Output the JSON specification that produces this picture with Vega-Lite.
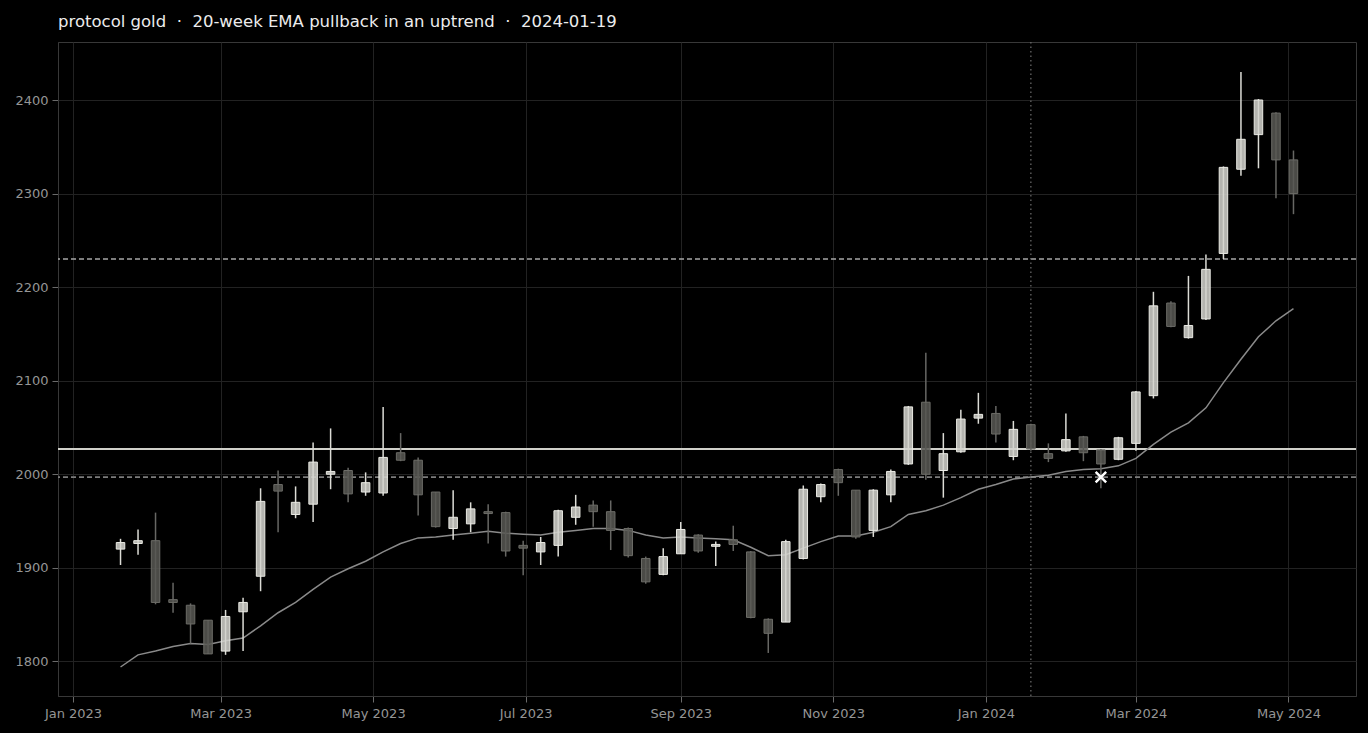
{
  "$schema": "https://vega.github.io/schema/vega-lite/v6.json",
  "title": "protocol gold\u00a0\u00a0·\u00a0\u00a020-week EMA pullback in an uptrend\u00a0\u00a0·\u00a0\u00a02024-01-19",
  "width": 1298,
  "height": 654,
  "autosize": {"type": "none"},
  "padding": {"left": 58, "top": 42, "right": 12, "bottom": 37},
  "datasets": {
    "weeks": [
      {"date": "2023-01-20", "open": 1920, "high": 1931, "low": 1903, "close": 1927, "ema": 1794},
      {"date": "2023-01-27", "open": 1926, "high": 1941, "low": 1914, "close": 1929, "ema": 1807},
      {"date": "2023-02-03", "open": 1929, "high": 1959, "low": 1861, "close": 1863, "ema": 1811},
      {"date": "2023-02-10", "open": 1866, "high": 1884, "low": 1852, "close": 1863, "ema": 1816},
      {"date": "2023-02-17", "open": 1860, "high": 1862, "low": 1819, "close": 1840, "ema": 1819},
      {"date": "2023-02-24", "open": 1844, "high": 1844, "low": 1808, "close": 1808, "ema": 1818},
      {"date": "2023-03-03", "open": 1811, "high": 1855, "low": 1807, "close": 1848, "ema": 1822},
      {"date": "2023-03-10", "open": 1853, "high": 1868, "low": 1811, "close": 1863, "ema": 1825},
      {"date": "2023-03-17", "open": 1891, "high": 1985, "low": 1875, "close": 1971, "ema": 1838},
      {"date": "2023-03-24", "open": 1989, "high": 2004, "low": 1938, "close": 1982, "ema": 1852},
      {"date": "2023-03-31", "open": 1957, "high": 1987, "low": 1953, "close": 1970, "ema": 1863},
      {"date": "2023-04-07", "open": 1968, "high": 2034, "low": 1949, "close": 2013, "ema": 1877},
      {"date": "2023-04-14", "open": 2000, "high": 2049, "low": 1984, "close": 2003, "ema": 1890},
      {"date": "2023-04-21", "open": 2004, "high": 2007, "low": 1970, "close": 1979, "ema": 1899},
      {"date": "2023-04-28", "open": 1981, "high": 2002, "low": 1977, "close": 1991, "ema": 1907},
      {"date": "2023-05-05", "open": 1980, "high": 2072, "low": 1977, "close": 2018, "ema": 1917},
      {"date": "2023-05-12", "open": 2023, "high": 2044, "low": 2014, "close": 2015, "ema": 1926},
      {"date": "2023-05-19", "open": 2015, "high": 2018, "low": 1956, "close": 1978, "ema": 1932},
      {"date": "2023-05-26", "open": 1981, "high": 1981, "low": 1943, "close": 1944, "ema": 1933},
      {"date": "2023-06-02", "open": 1942, "high": 1983, "low": 1930, "close": 1954, "ema": 1935},
      {"date": "2023-06-09", "open": 1947, "high": 1970, "low": 1938, "close": 1963, "ema": 1937},
      {"date": "2023-06-16", "open": 1960, "high": 1968, "low": 1926, "close": 1958, "ema": 1939},
      {"date": "2023-06-23", "open": 1959, "high": 1960, "low": 1912, "close": 1918, "ema": 1937},
      {"date": "2023-06-30", "open": 1924, "high": 1929, "low": 1892, "close": 1921, "ema": 1936},
      {"date": "2023-07-07", "open": 1917, "high": 1933, "low": 1903, "close": 1927, "ema": 1935},
      {"date": "2023-07-14", "open": 1924, "high": 1962, "low": 1912, "close": 1961, "ema": 1938},
      {"date": "2023-07-21", "open": 1954, "high": 1978, "low": 1946, "close": 1965, "ema": 1940},
      {"date": "2023-07-28", "open": 1967, "high": 1972, "low": 1944, "close": 1960, "ema": 1942},
      {"date": "2023-08-04", "open": 1960, "high": 1972, "low": 1919, "close": 1940, "ema": 1942},
      {"date": "2023-08-11", "open": 1942, "high": 1943, "low": 1911, "close": 1913, "ema": 1940},
      {"date": "2023-08-18", "open": 1910, "high": 1912, "low": 1883, "close": 1885, "ema": 1935},
      {"date": "2023-08-25", "open": 1893, "high": 1921, "low": 1892, "close": 1912, "ema": 1932},
      {"date": "2023-09-01", "open": 1915, "high": 1949, "low": 1915, "close": 1941, "ema": 1933},
      {"date": "2023-09-08", "open": 1935, "high": 1936, "low": 1916, "close": 1918, "ema": 1932},
      {"date": "2023-09-15", "open": 1923, "high": 1928, "low": 1902, "close": 1925, "ema": 1931},
      {"date": "2023-09-22", "open": 1930, "high": 1945, "low": 1918, "close": 1925, "ema": 1930},
      {"date": "2023-09-29", "open": 1917, "high": 1918, "low": 1846, "close": 1847, "ema": 1922},
      {"date": "2023-10-06", "open": 1845, "high": 1846, "low": 1809, "close": 1830, "ema": 1913},
      {"date": "2023-10-13", "open": 1842, "high": 1930, "low": 1842, "close": 1928, "ema": 1914},
      {"date": "2023-10-20", "open": 1910, "high": 1988, "low": 1909, "close": 1984, "ema": 1921},
      {"date": "2023-10-27", "open": 1976, "high": 1990, "low": 1970, "close": 1989, "ema": 1928},
      {"date": "2023-11-03", "open": 2005, "high": 2006, "low": 1977, "close": 1991, "ema": 1934},
      {"date": "2023-11-10", "open": 1983, "high": 1983, "low": 1931, "close": 1933, "ema": 1934},
      {"date": "2023-11-17", "open": 1940, "high": 1984, "low": 1933, "close": 1983, "ema": 1938},
      {"date": "2023-11-24", "open": 1978, "high": 2005, "low": 1970, "close": 2003, "ema": 1944},
      {"date": "2023-12-01", "open": 2011, "high": 2073, "low": 2010, "close": 2072, "ema": 1957},
      {"date": "2023-12-08", "open": 2077, "high": 2130, "low": 1994, "close": 2000, "ema": 1961},
      {"date": "2023-12-15", "open": 2004, "high": 2044, "low": 1975, "close": 2022, "ema": 1967},
      {"date": "2023-12-22", "open": 2024, "high": 2069, "low": 2023, "close": 2059, "ema": 1975},
      {"date": "2023-12-29", "open": 2060, "high": 2087, "low": 2054, "close": 2064, "ema": 1984},
      {"date": "2024-01-05", "open": 2065, "high": 2073, "low": 2034, "close": 2043, "ema": 1989},
      {"date": "2024-01-12", "open": 2019, "high": 2057, "low": 2015, "close": 2048, "ema": 1995},
      {"date": "2024-01-19", "open": 2053, "high": 2054, "low": 2025, "close": 2027, "ema": 1997},
      {"date": "2024-01-26", "open": 2022, "high": 2033, "low": 2013, "close": 2017, "ema": 1999},
      {"date": "2024-02-02", "open": 2025, "high": 2065, "low": 2024, "close": 2037, "ema": 2003},
      {"date": "2024-02-09", "open": 2040, "high": 2041, "low": 2014, "close": 2023, "ema": 2005},
      {"date": "2024-02-16", "open": 2026, "high": 2027, "low": 1985, "close": 2011, "ema": 2006},
      {"date": "2024-02-23", "open": 2016, "high": 2040, "low": 2015, "close": 2039, "ema": 2009},
      {"date": "2024-03-01", "open": 2033, "high": 2089, "low": 2025, "close": 2088, "ema": 2017},
      {"date": "2024-03-08", "open": 2084, "high": 2195, "low": 2081, "close": 2180, "ema": 2032},
      {"date": "2024-03-15", "open": 2183, "high": 2185, "low": 2157, "close": 2158, "ema": 2045},
      {"date": "2024-03-22", "open": 2146, "high": 2212, "low": 2145, "close": 2159, "ema": 2055},
      {"date": "2024-03-29", "open": 2166, "high": 2235, "low": 2165, "close": 2219, "ema": 2071},
      {"date": "2024-04-05", "open": 2236, "high": 2329, "low": 2230, "close": 2328, "ema": 2098},
      {"date": "2024-04-12", "open": 2326, "high": 2430, "low": 2319, "close": 2358, "ema": 2123},
      {"date": "2024-04-19", "open": 2363, "high": 2401, "low": 2327, "close": 2400, "ema": 2147},
      {"date": "2024-04-26", "open": 2386, "high": 2387, "low": 2295, "close": 2336, "ema": 2164},
      {"date": "2024-05-03", "open": 2336, "high": 2346, "low": 2278, "close": 2300, "ema": 2177}
    ],
    "levels": [
      {"kind": "entry", "level": 2027},
      {"kind": "stop", "level": 1997},
      {"kind": "target", "level": 2230}
    ],
    "signal": [{"date": "2024-01-19"}],
    "touch": [{"date": "2024-02-16", "price": 1997}]
  },
  "encoding": {
    "x": {
      "field": "date",
      "type": "temporal",
      "title": null,
      "scale": {
        "type": "utc",
        "padding": 0,
        "domain": [
          {"year": 2022, "month": 12, "date": 26, "utc": true},
          {"year": 2024, "month": 5, "date": 28, "utc": true}
        ]
      },
      "axis": {"format": "%b %Y", "tickCount": {"interval": "month", "step": 2}, "labelPadding": 5}
    }
  },
  "layer": [
    {
      "data": {"name": "levels"},
      "mark": {"type": "rule"},
      "encoding": {
        "x": null,
        "y": {"field": "level", "type": "quantitative"},
        "color": {
          "field": "kind",
          "type": "nominal",
          "legend": null,
          "scale": {"domain": ["entry", "stop", "target"], "range": ["#d0d0ca", "#7c7c7c", "#a6a6a6"]}
        },
        "strokeDash": {
          "field": "kind",
          "type": "nominal",
          "legend": null,
          "scale": {"domain": ["entry", "stop", "target"], "range": [[1, 0], [5, 3], [5, 3]]}
        },
        "size": {
          "field": "kind",
          "type": "nominal",
          "legend": null,
          "scale": {"domain": ["entry", "stop", "target"], "range": [2, 1.5, 1.5]}
        }
      }
    },
    {
      "data": {"name": "signal"},
      "mark": {"type": "rule", "color": "#6e6e6e", "strokeDash": [1.5, 3], "strokeWidth": 1.2},
      "encoding": {}
    },
    {
      "data": {"name": "weeks"},
      "mark": {"type": "line", "color": "#8a8a8a", "strokeWidth": 1.5},
      "encoding": {
        "y": {"field": "ema", "type": "quantitative"}
      }
    },
    {
      "data": {"name": "weeks"},
      "mark": {"type": "rule", "strokeWidth": 1.5},
      "encoding": {
        "y": {
          "field": "low",
          "type": "quantitative",
          "title": null,
          "scale": {"domain": [1763, 2462], "nice": false, "zero": false, "padding": 0},
          "axis": {"values": [1800, 1900, 2000, 2100, 2200, 2300, 2400], "format": "d", "labelPadding": 4}
        },
        "y2": {"field": "high"},
        "color": {"condition": {"test": "datum.close >= datum.open", "value": "#dcdcd6"}, "value": "#676764"}
      }
    },
    {
      "data": {"name": "weeks"},
      "mark": {"type": "bar", "size": 8.5, "fillOpacity": 0.85, "strokeWidth": 1},
      "encoding": {
        "y": {"field": "open", "type": "quantitative"},
        "y2": {"field": "close"},
        "fill": {"condition": {"test": "datum.close >= datum.open", "value": "#d4d4ce"}, "value": "#585853"},
        "stroke": {"condition": {"test": "datum.close >= datum.open", "value": "#eaeae4"}, "value": "#6c6c67"}
      }
    },
    {
      "data": {"name": "touch"},
      "mark": {"type": "point", "shape": "M-1,-1L1,1M-1,1L1,-1", "filled": false, "size": 110, "stroke": "#ffffff", "strokeWidth": 2.5, "opacity": 1},
      "encoding": {
        "y": {"field": "price", "type": "quantitative"}
      }
    }
  ],
  "config": {
    "background": "#000000",
    "view": {"stroke": "#383838", "strokeWidth": 1},
    "axis": {
      "labelFont": "DejaVu Sans",
      "labelFontSize": 13,
      "labelColor": "#959595",
      "domainColor": "#383838",
      "tickColor": "#6a6a6a",
      "tickSize": 6,
      "gridColor": "#222222",
      "gridWidth": 1
    },
    "title": {
      "font": "DejaVu Sans",
      "fontSize": 16.5,
      "fontWeight": "normal",
      "color": "#ececec",
      "anchor": "start",
      "frame": "group",
      "offset": 11
    }
  }
}
